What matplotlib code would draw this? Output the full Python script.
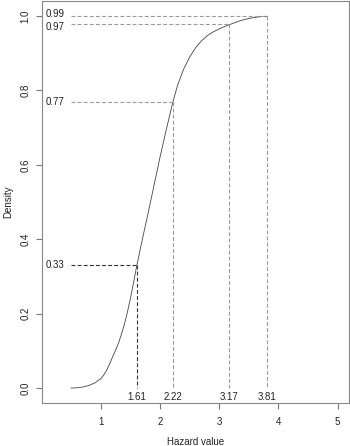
import matplotlib
matplotlib.use("Agg")
import matplotlib.pyplot as plt

# curve
hazard = [0.50, 0.60, 0.70, 0.80, 0.90, 1.00, 1.05, 1.10, 1.15, 1.20, 1.25, 1.30,
          1.35, 1.40, 1.45, 1.50, 1.55, 1.61, 1.70, 1.80, 1.90, 2.00, 2.10, 2.22,
          2.30, 2.40, 2.50, 2.60, 2.70, 2.80, 2.90, 3.00, 3.10, 3.20, 3.30, 3.40,
          3.50, 3.60, 3.70, 3.81]
density = [0.000, 0.001, 0.003, 0.007, 0.014, 0.025, 0.035, 0.048, 0.065, 0.084,
           0.102, 0.121, 0.145, 0.172, 0.204, 0.240, 0.280, 0.330, 0.398, 0.470,
           0.545, 0.620, 0.690, 0.770, 0.815, 0.857, 0.889, 0.914, 0.933, 0.947,
           0.957, 0.965, 0.972, 0.978, 0.984, 0.989, 0.993, 0.996, 0.998, 0.999]

# marked quantiles
mark_x = [1.61, 2.22, 3.17, 3.81]
mark_y = [0.33, 0.77, 0.977, 0.999]
mark_xlab = ["1.61", "2.22", "3.17", "3.81"]
mark_ylab = ["0.33", "0.77", "0.97", "0.99"]
mark_col = ["#333333", "#9a9a9a", "#9a9a9a", "#9a9a9a"]

xticks = [1, 2, 3, 4, 5]
yticks = [0.0, 0.2, 0.4, 0.6, 0.8, 1.0]
ytick_labels = ["0.0", "0.2", "0.4", "0.6", "0.8", "1.0"]

plt.rcParams['font.family'] = ['Liberation Sans', 'DejaVu Sans']

fig = plt.figure(figsize=(3.5, 4.46), dpi=100)
ax = fig.add_axes([42/350, 1 - 403/446, (349 - 42)/350, (403 - 1)/446])

ax.plot(hazard, density, color="#444444", lw=0.6)

# small vertical nudges (points) so the two close labels do not collide
nudge = {"0.99": 1.5, "0.97": -1.5}

x0 = hazard[0]
for xv, yv, xl, yl, c in zip(mark_x, mark_y, mark_xlab, mark_ylab, mark_col):
    ax.plot([x0, xv], [yv, yv], color=c, lw=0.8, dashes=(3.5, 2))
    ax.plot([xv, xv], [yv, 0], color=c, lw=0.8, dashes=(3.5, 2))
    ax.text(xv, -0.023, xl, ha="center", va="center", fontsize=7, color="#222222")
    ax.annotate(yl, (0.07, yv), xytext=(0, nudge.get(yl, 0)), textcoords="offset points",
                ha="left", va="center", fontsize=7, color="#222222")

ax.set_xlim(0.008, 5.192)
ax.set_ylim(-0.04, 1.04)
ax.set_xticks(xticks)
ax.set_xticklabels([str(t) for t in xticks])
ax.set_yticks(yticks)
ax.set_yticklabels(ytick_labels, rotation=90, va="center")
ax.tick_params(axis="both", direction="out", length=4.5, width=0.8, color="#777777",
               labelsize=7, labelcolor="#222222")
ax.tick_params(axis="x", pad=5.5)
ax.tick_params(axis="y", pad=4)
for s in ax.spines.values():
    s.set_color("#888888")
    s.set_linewidth(0.8)

fig.text(195.5/350, 1 - 442/446, "Hazard value", ha="center", va="center", fontsize=7, color="#222222")
fig.text(8/350, 1 - 202/446, "Density", ha="center", va="center", rotation=90, fontsize=7, color="#222222")

fig.savefig("out.png", dpi=100)
